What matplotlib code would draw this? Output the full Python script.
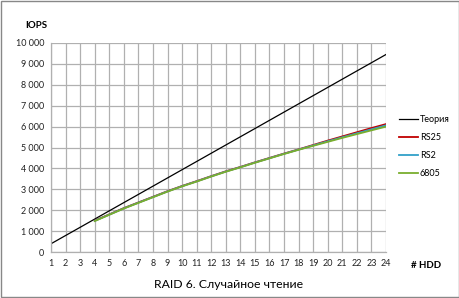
import matplotlib.pyplot as plt

plt.rcParams["font.family"] = ["Lato", "DejaVu Sans"]

hdd = list(range(1, 25))
theory = [394, 788, 1181, 1575, 1969, 2363, 2756, 3150, 3544, 3938, 4331, 4725,
          5119, 5513, 5906, 6300, 6694, 7088, 7481, 7875, 8269, 8663, 9056, 9450]

hdd_ctrl = list(range(4, 25))
rs25 = [1500, 1800, 2100, 2370, 2640, 2910, 3160, 3390, 3630, 3860, 4070, 4290,
        4500, 4710, 4910, 5120, 5330, 5530, 5730, 5930, 6120]
rs2 = [1490, 1790, 2090, 2360, 2630, 2900, 3150, 3380, 3620, 3850, 4060, 4280,
       4490, 4700, 4900, 5100, 5300, 5490, 5680, 5870, 6060]
a6805 = [1480, 1780, 2080, 2350, 2620, 2890, 3140, 3370, 3610, 3840, 4050, 4270,
         4480, 4690, 4890, 5080, 5270, 5460, 5640, 5820, 6000]

series = [
    ("Теория", hdd, theory, "#000000", 0.9),
    ("RS25", hdd_ctrl, rs25, "#c00000", 1.3),
    ("RS2", hdd_ctrl, rs2, "#31a0c8", 1.3),
    ("6805", hdd_ctrl, a6805, "#7aae2e", 1.3),
]


def main():
    fig = plt.figure(figsize=(4.6, 2.98), dpi=100)
    ax = fig.add_axes([51 / 460, 46 / 298, 335 / 460, 209 / 298])

    for name, xs, ys, color, lw in series:
        ax.plot(xs, ys, color=color, lw=lw, label=name)

    ax.set_xlim(1, 24)
    ax.set_ylim(0, 10000)
    ax.set_xticks(hdd)
    ax.set_yticks(range(0, 10001, 1000))
    ax.set_yticklabels([f"{v:,}".replace(",", " ") for v in range(0, 10001, 1000)])
    ax.tick_params(length=0, labelsize=6.5, pad=5, colors="#222222")
    ax.grid(True, color="#b0b0b0", lw=0.9)
    for side in ["top", "right"]:
        ax.spines[side].set_visible(False)
    for side in ["left", "bottom"]:
        ax.spines[side].set_color("#b0b0b0")
        ax.spines[side].set_linewidth(0.9)

    ax.legend(loc="upper left", bbox_to_anchor=(1.039, 0.655), frameon=False,
              fontsize=6.5, handlelength=2.1, handletextpad=0.2,
              labelspacing=1.0, borderaxespad=0, borderpad=0)

    fig.text(25 / 460, 1 - 25 / 298, "IOPS", fontsize=7, fontweight="bold",
             ha="left", va="center")
    fig.text(426 / 460, 1 - 265 / 298, "# HDD", fontsize=7, fontweight="bold",
             ha="center", va="center")
    fig.text(229 / 460, 1 - 284 / 298, "RAID 6. Случайное чтение", fontsize=8.8,
             ha="center", va="center")

    fig.patches.append(plt.Rectangle((0.002, 0.003), 0.995, 0.993,
                                     transform=fig.transFigure, fill=False,
                                     edgecolor="#888888", lw=1.0))

    fig.savefig("out.png", dpi=100)
    plt.close(fig)


if __name__ == "__main__":
    main()
